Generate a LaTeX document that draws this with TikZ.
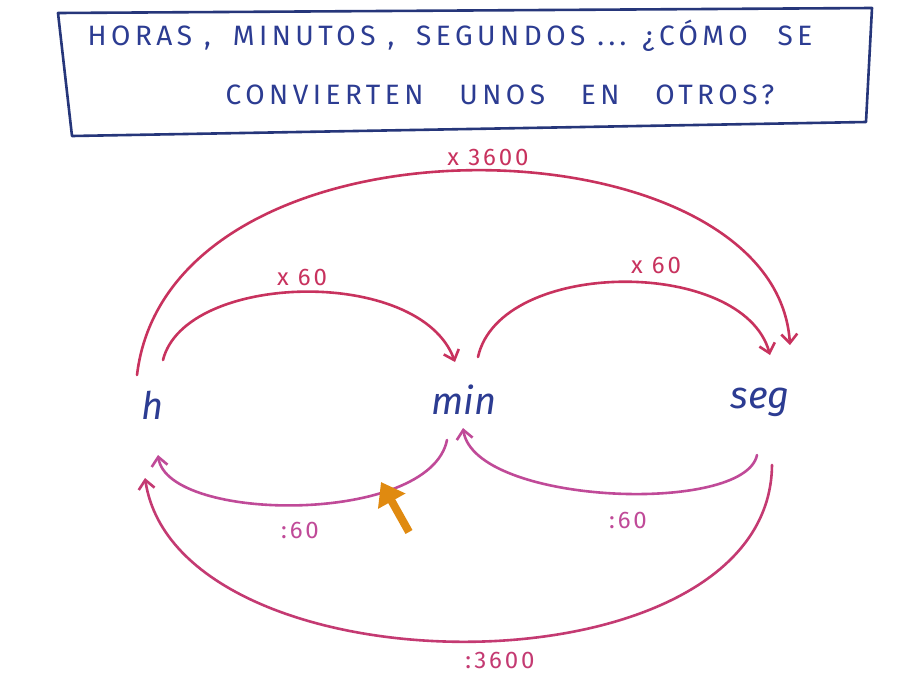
\documentclass[tikz,border=0pt]{standalone}
\usepackage{fontspec}
\setmainfont{Fira Sans}
\usetikzlibrary{arrows.meta}
\definecolor{inkblue}{HTML}{2C3C92}
\definecolor{boxblue}{HTML}{26367A}
\definecolor{arcred}{HTML}{C8325E}
\definecolor{arcpink}{HTML}{C04A98}
\definecolor{arcrose}{HTML}{C43A72}
\definecolor{pointer}{HTML}{E08A10}
\tikzset{
  unitnode/.style={text=inkblue, font=\fontsize{38}{40}\selectfont\itshape, inner sep=0pt},
  titletext/.style={text=inkblue, font=\fontsize{28}{30}\selectfont\addfontfeatures{LetterSpace=16}, inner sep=0pt},
  factor/.style={font=\fontsize{24}{26}\selectfont\addfontfeatures{LetterSpace=12}, inner sep=0pt},
  conv/.style={line width=2.6pt, line cap=round, -{Straight Barb[length=9pt,width=16pt,line width=2.6pt]}},
}
\begin{document}
\begin{tikzpicture}[x=1pt,y=-1pt]
\useasboundingbox[fill=white] (0,0) rectangle (911,683);
% title box
\draw[boxblue, line width=2.6pt, line join=round] (58,13) -- (872,8) -- (866,122) -- (72,136) -- cycle;
\node[titletext] (t1) at (450,36) {HORAS\hspace{12pt},\hspace{10pt} MINUTOS\hspace{12pt},\hspace{10pt} SEGUNDOS ... ¿CÓMO\hspace{18pt} SE};
\node[titletext] (t2) at (500,95) {CONVIERTEN\hspace{24pt} UNOS\hspace{24pt} EN\hspace{24pt} OTROS?};
% units
\node[unitnode] (h) at (153,405) {h};
\node[unitnode] (min) at (464,400) {min};
\node[unitnode] (seg) at (760,402) {seg};
% upward arcs
\draw[conv, arcred] ([shift={(-16,-30)}]h.center) .. controls +(33,-275) and +(-15,-230) .. ([shift={(30,-57)}]seg.center);
\draw[conv, arcred] ([shift={(10,-45)}]h.center) .. controls +(22,-88) and +(-35,-96) .. ([shift={(-9,-38)}]min.center);
\draw[conv, arcred] ([shift={(14,-43)}]min.center) .. controls +(22,-99) and +(-27,-98) .. ([shift={(10,-47)}]seg.center);
% downward arcs
\draw[conv, arcpink] ([shift={(-17,40)}]min.center) .. controls +(-17,85) and +(10,68) .. ([shift={(5,50)}]h.center);
\draw[conv, arcpink] ([shift={(-3,53)}]seg.center) .. controls +(-12,60) and +(12,77) .. ([shift={(-1,28)}]min.center);
\draw[conv, arcrose] ([shift={(12,63)}]seg.center) .. controls +(-2,235) and +(33,218) .. ([shift={(-8,73)}]h.center);
% factor labels
\node[factor, text=arcred] (l1) at (488,157) {x 3600};
\node[factor, text=arcred] (l2) at (302,277) {x 60};
\node[factor, text=arcred] (l3) at (656,265) {x 60};
\node[factor, text=arcpink] (l4) at (300,530) {:60};
\node[factor, text=arcpink] (l5) at (628,520) {:60};
\node[factor, text=arcrose] (l6) at (500,660) {:3600};
% orange pointer
\coordinate (ptail) at (409,532);
\coordinate (phead) at (381,482);
\draw[pointer, line width=8pt, -{Triangle[length=22pt,width=30pt]}] (ptail) -- (phead);
\end{tikzpicture}
\end{document}
